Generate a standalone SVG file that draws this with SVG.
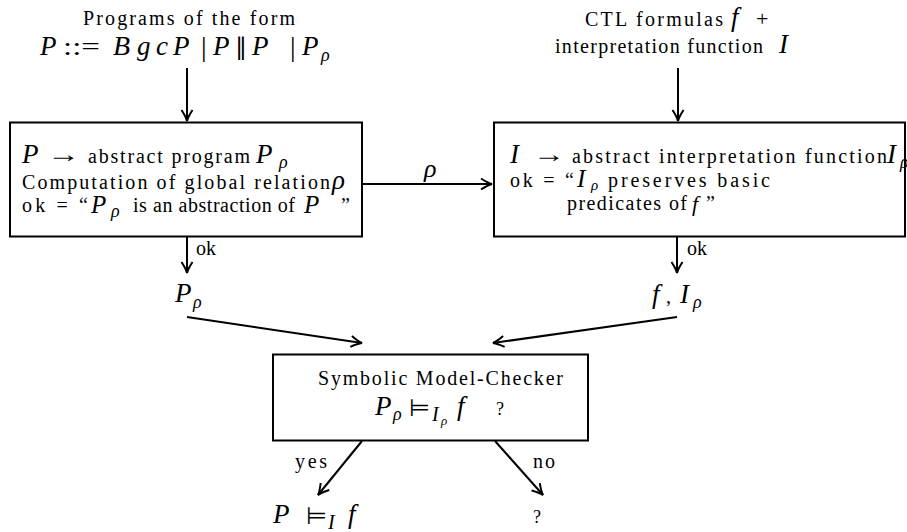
<svg xmlns="http://www.w3.org/2000/svg" width="907" height="532" viewBox="0 0 907 532">
<style>
text { fill:#000; }
.rm { font-family:"Liberation Serif","Times New Roman",serif; font-size:20px; }
.mi { font-family:"Liberation Serif","Times New Roman",serif; font-style:italic; font-size:27px; }
.sub { font-family:"Liberation Serif","Times New Roman",serif; font-style:italic; font-size:18px; }
.ssub { font-family:"Liberation Serif","Times New Roman",serif; font-style:italic; font-size:13px; }
.sym { font-family:"DejaVu Sans",sans-serif; font-size:24px; }
.box { fill:#fff; stroke:#000; stroke-width:2; }
.conn line { stroke:#000; stroke-width:2; marker-end:url(#ah); }
</style>
<defs>
<marker id="ah" markerUnits="userSpaceOnUse" markerWidth="16" markerHeight="14" viewBox="-13 -7 16 14" refX="0" refY="0" orient="auto" overflow="visible">
<path d="M-11,-5.5 Q-4,-1 0,0 Q-4,1 -11,5.5" fill="none" stroke="#000" stroke-width="2"/>
</marker>
</defs>
<rect width="907" height="532" fill="#fff"/>

<g id="n-programs">
<text class="rm" x="83" y="25" textLength="212" lengthAdjust="spacing">Programs of the form</text>
<text class="mi" x="40" y="55">P</text>
<text class="rm" x="63" y="55" style="font-size:26px" textLength="37" lengthAdjust="spacingAndGlyphs">::=</text>
<text class="mi" x="113" y="55" style="font-size:28px">B</text>
<text class="mi" x="137" y="55">g</text>
<text class="mi" x="156" y="55">c</text>
<text class="mi" x="173" y="55">P</text>
<text class="rm" x="201" y="56" style="font-size:28px">|</text>
<text class="mi" x="213" y="55">P</text>
<text class="sym" x="235" y="55">∥</text>
<text class="mi" x="252" y="55">P</text>
<text class="rm" x="290" y="56" style="font-size:28px">|</text>
<text class="mi" x="302" y="55">P</text>
<text class="sub" x="321" y="61">ρ</text>
</g>

<g id="n-ctl">
<text class="rm" x="585" y="26" textLength="138" lengthAdjust="spacing">CTL formulas</text>
<text class="mi" x="731" y="26">f</text>
<text class="rm" x="756" y="26" style="font-size:22px">+</text>
<text class="rm" x="555" y="53" textLength="208" lengthAdjust="spacing">interpretation function</text>
<text class="mi" x="779" y="53">I</text>
</g>

<g id="n-abstract-program">
<rect class="box" x="10" y="122.5" width="352" height="114"/>
<text class="mi" x="22" y="163">P</text>
<text class="rm" x="47" y="162" style="font-size:24px" textLength="33" lengthAdjust="spacingAndGlyphs">→</text>
<text class="rm" x="88" y="163" textLength="162" lengthAdjust="spacing">abstract program</text>
<text class="mi" x="256" y="163">P</text>
<text class="sub" x="279" y="168">ρ</text>
<text class="rm" x="22" y="189" textLength="308" lengthAdjust="spacing">Computation of global relation</text>
<text class="mi" x="332" y="189">ρ</text>
<text class="rm" x="22" y="212" textLength="66" lengthAdjust="spacing">ok = “</text>
<text class="mi" x="91" y="213" style="font-size:25px">P</text>
<text class="sub" x="111" y="217">ρ</text>
<text class="rm" x="133" y="212" textLength="162" lengthAdjust="spacing">is an abstraction of</text>
<text class="mi" x="304" y="213" style="font-size:25px">P</text>
<text class="rm" x="341" y="212">”</text>
</g>

<g id="n-abstract-interpretation">
<rect class="box" x="494" y="122.5" width="411" height="114"/>
<text class="mi" x="510" y="163">I</text>
<text class="rm" x="533" y="162" style="font-size:24px" textLength="32" lengthAdjust="spacingAndGlyphs">→</text>
<text class="rm" x="572" y="163" textLength="315" lengthAdjust="spacing">abstract interpretation function</text>
<text class="mi" x="887" y="163">I</text>
<text class="sub" x="900" y="168">ρ</text>
<text class="rm" x="510" y="187" textLength="64" lengthAdjust="spacing">ok = “</text>
<text class="mi" x="577" y="187" style="font-size:25px">I</text>
<text class="sub" x="591" y="190" style="font-size:15px">ρ</text>
<text class="rm" x="608" y="187" textLength="162" lengthAdjust="spacing">preserves basic</text>
<text class="rm" x="567" y="210" textLength="120" lengthAdjust="spacing">predicates of</text>
<text class="mi" x="692" y="211" style="font-size:22px">f</text>
<text class="rm" x="706" y="210">”</text>
</g>

<g id="n-p-rho">
<text class="mi" x="175" y="302">P</text>
<text class="sub" x="193" y="308">ρ</text>
</g>

<g id="n-f-i-rho">
<text class="mi" x="652" y="303">f</text>
<text class="rm" x="666" y="303">,</text>
<text class="mi" x="680" y="303">I</text>
<text class="sub" x="693" y="308">ρ</text>
</g>

<g id="n-model-checker">
<rect class="box" x="273" y="354.5" width="315" height="86"/>
<text class="rm" x="318" y="385" textLength="245" lengthAdjust="spacing">Symbolic Model-Checker</text>
<text class="mi" x="375" y="415">P</text>
<text class="sub" x="393" y="420">ρ</text>
<text class="sym" x="409" y="416" textLength="21" lengthAdjust="spacingAndGlyphs">⊨</text>
<text class="sub" x="432" y="421" style="font-size:20px">I</text>
<text class="ssub" x="441" y="425">ρ</text>
<text class="mi" x="457" y="415">f</text>
<text class="rm" x="496" y="415" style="font-size:18px">?</text>
</g>

<g id="n-result-yes">
<text class="mi" x="273" y="523">P</text>
<text class="sym" x="306" y="524" textLength="21" lengthAdjust="spacingAndGlyphs">⊨</text>
<text class="sub" x="328" y="529" style="font-size:20px">I</text>
<text class="mi" x="348" y="523">f</text>
</g>

<g id="n-result-no">
<text class="rm" x="533" y="523" style="font-size:18px">?</text>
</g>

<g id="connectors" class="conn">
<line x1="187" y1="68" x2="187" y2="121"/>
<line x1="678" y1="68" x2="678" y2="121"/>
<line x1="362" y1="184" x2="492" y2="184"/>
<line x1="187" y1="237" x2="187" y2="273"/>
<line x1="677" y1="237" x2="677" y2="273"/>
<line x1="187" y1="317" x2="362" y2="343"/>
<line x1="677" y1="317" x2="493" y2="343"/>
<line x1="362" y1="441" x2="318" y2="495"/>
<line x1="495" y1="441" x2="543" y2="495"/>
<text class="mi" x="424" y="177" style="font-size:26px">ρ</text>
<text class="rm" x="196" y="255">ok</text>
<text class="rm" x="687" y="255">ok</text>
<text class="rm" x="295" y="468" textLength="32" lengthAdjust="spacing">yes</text>
<text class="rm" x="533" y="468" textLength="22" lengthAdjust="spacing">no</text>
</g>
</svg>
